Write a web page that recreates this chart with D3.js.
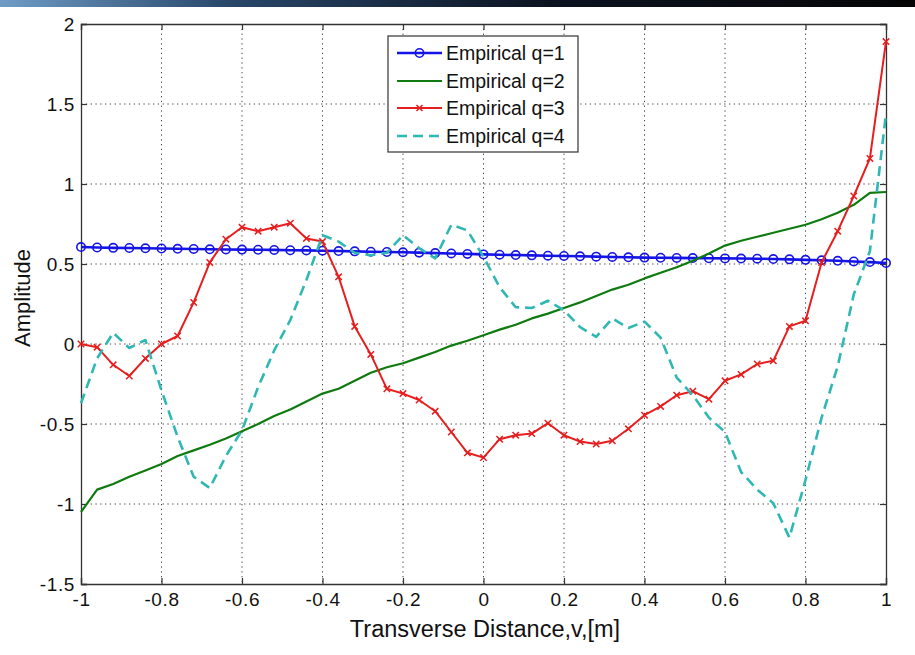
<!DOCTYPE html>
<html>
<head>
<meta charset="utf-8">
<script src="https://cdn.jsdelivr.net/npm/d3@7/dist/d3.min.js"></script>
<style>
  html, body { margin: 0; padding: 0; background: #fff; }
  svg { display: block; font-family: "Liberation Sans", Arial, sans-serif; }
</style>
</head>
<body>
<svg id="chart" width="915" height="655"></svg>
<script>
// ---- data ----
const xValues = d3.range(51).map(i => +(-1 + i * 0.04).toFixed(2));
const seriesNames = ["Empirical q=1", "Empirical q=2", "Empirical q=3", "Empirical q=4"];
const q1 = [0.606,0.603,0.601,0.600,0.598,0.597,0.595,0.594,0.592,0.591,0.590,0.589,0.588,0.586,0.585,0.583,0.581,0.579,0.577,0.575,0.573,0.571,0.568,0.566,0.563,0.560,0.558,0.556,0.554,0.552,0.550,0.548,0.546,0.544,0.542,0.540,0.539,0.538,0.537,0.536,0.535,0.534,0.533,0.531,0.529,0.526,0.523,0.520,0.516,0.512,0.506];
const q2 = [-1.05,-0.91,-0.875,-0.83,-0.79,-0.75,-0.70,-0.665,-0.63,-0.59,-0.545,-0.50,-0.45,-0.41,-0.36,-0.31,-0.28,-0.23,-0.18,-0.145,-0.12,-0.085,-0.05,-0.01,0.02,0.055,0.09,0.12,0.16,0.19,0.225,0.26,0.30,0.34,0.37,0.41,0.445,0.48,0.52,0.565,0.615,0.645,0.67,0.695,0.72,0.745,0.78,0.82,0.87,0.945,0.95];
const q3 = [0.0,-0.02,-0.13,-0.2,-0.09,0.0,0.05,0.26,0.51,0.655,0.73,0.705,0.73,0.755,0.66,0.64,0.42,0.11,-0.065,-0.28,-0.31,-0.35,-0.42,-0.55,-0.68,-0.71,-0.595,-0.57,-0.56,-0.495,-0.57,-0.61,-0.625,-0.605,-0.53,-0.445,-0.39,-0.32,-0.295,-0.345,-0.23,-0.19,-0.125,-0.105,0.11,0.145,0.51,0.705,0.925,1.16,1.89];
const q4 = [-0.37,-0.09,0.07,-0.025,0.025,-0.29,-0.58,-0.83,-0.9,-0.7,-0.54,-0.27,-0.04,0.15,0.4,0.68,0.64,0.57,0.555,0.57,0.68,0.6,0.535,0.745,0.71,0.545,0.355,0.23,0.225,0.27,0.21,0.105,0.045,0.16,0.1,0.14,0.04,-0.21,-0.32,-0.46,-0.55,-0.8,-0.91,-0.995,-1.21,-0.85,-0.46,-0.14,0.31,0.58,1.44];
const xTicks = [-1,-0.8,-0.6,-0.4,-0.2,0,0.2,0.4,0.6,0.8,1];
const xTickLabels = ["-1","-0.8","-0.6","-0.4","-0.2","0","0.2","0.4","0.6","0.8","1"];
const yTicks = [-1.5,-1,-0.5,0,0.5,1,1.5,2];
const yTickLabels = ["-1.5","-1","-0.5","0","0.5","1","1.5","2"];
const xLabel = "Transverse Distance,v,[m]";
const yLabel = "Amplitude";

// ---- styles ----
const styles = [
  { color: "#1414e6", width: 2.6, dash: null, marker: "circle" },
  { color: "#0f7a0f", width: 2.2, dash: null, marker: null },
  { color: "#e61e1e", width: 2.0, dash: null, marker: "x" },
  { color: "#2fb8b3", width: 2.6, dash: "10,6", marker: null }
];
const allSeries = [q1, q2, q3, q4];

const svg = d3.select("#chart");

// top banner strip
const defs = svg.append("defs");
const grad = defs.append("linearGradient").attr("id", "band");
grad.append("stop").attr("offset", "0%").attr("stop-color", "#6f9cc6");
grad.append("stop").attr("offset", "25%").attr("stop-color", "#28476a");
grad.append("stop").attr("offset", "60%").attr("stop-color", "#0c1320");
grad.append("stop").attr("offset", "100%").attr("stop-color", "#050505");
svg.append("rect").attr("x", 0).attr("y", 0).attr("width", 915).attr("height", 7).attr("fill", "url(#band)");

const L = 81, R = 886, T = 24, B = 584;
const x = d3.scaleLinear().domain([-1, 1]).range([L, R]);
const y = d3.scaleLinear().domain([-1.5, 2]).range([B, T]);

// grid
const grid = svg.append("g");
grid.selectAll(".gx").data(xTicks.slice(1, -1)).enter().append("line")
  .attr("x1", d => x(d)).attr("x2", d => x(d)).attr("y1", T).attr("y2", B)
  .attr("stroke", "#444").attr("stroke-width", 1).attr("stroke-dasharray", "1.3,3.5");
grid.selectAll(".gy").data(yTicks.slice(1, -1)).enter().append("line")
  .attr("y1", d => y(d)).attr("y2", d => y(d)).attr("x1", L).attr("x2", R)
  .attr("stroke", "#444").attr("stroke-width", 1).attr("stroke-dasharray", "1.3,3.5");

// axes (ticks inside, all four sides)
const tickFont = "19px";
const axB = svg.append("g").attr("transform", `translate(0,${B})`)
  .call(d3.axisBottom(x).tickValues(xTicks).tickSize(-6).tickPadding(12)
    .tickFormat((d, i) => xTickLabels[i]));
const axT = svg.append("g").attr("transform", `translate(0,${T})`)
  .call(d3.axisTop(x).tickValues(xTicks).tickSize(-6).tickFormat(""));
const axL = svg.append("g").attr("transform", `translate(${L},0)`)
  .call(d3.axisLeft(y).tickValues(yTicks).tickSize(-6).tickPadding(12)
    .tickFormat((d, i) => yTickLabels[i]));
const axR = svg.append("g").attr("transform", `translate(${R},0)`)
  .call(d3.axisRight(y).tickValues(yTicks).tickSize(-6).tickFormat(""));
[axB, axT, axL, axR].forEach(a => {
  a.select(".domain").attr("stroke", "#333").attr("stroke-width", 1.3);
  a.selectAll(".tick line").attr("stroke", "#333").attr("stroke-width", 1.2);
  a.selectAll("text").attr("fill", "#111").style("font-size", tickFont)
    .style("font-family", "'Liberation Sans', Arial, sans-serif").style("letter-spacing", "0.6px");
});
axB.selectAll("text").attr("dy", "0.71em").attr("y", 9);
axL.selectAll("text").attr("x", -6).attr("dy", "0.36em");

// lines
const lineGen = d3.line().x((d, i) => x(xValues[i])).y(d => y(d));
const plot = svg.append("g");
allSeries.forEach((s, si) => {
  const st = styles[si];
  plot.append("path").datum(s)
    .attr("d", lineGen)
    .attr("fill", "none")
    .attr("stroke", st.color)
    .attr("stroke-width", st.width)
    .attr("stroke-linejoin", "round")
    .attr("stroke-dasharray", st.dash);
  if (st.marker === "circle") {
    plot.selectAll(null).data(s).enter().append("circle")
      .attr("cx", (d, i) => x(xValues[i])).attr("cy", d => y(d)).attr("r", 4.2)
      .attr("fill", "none").attr("stroke", st.color).attr("stroke-width", 1.6);
  } else if (st.marker === "x") {
    const m = 3.2;
    plot.selectAll(null).data(s).enter().append("path")
      .attr("d", (d, i) => {
        const cx = x(xValues[i]), cy = y(d);
        return `M${cx - m},${cy - m}L${cx + m},${cy + m}M${cx - m},${cy + m}L${cx + m},${cy - m}`;
      })
      .attr("stroke", st.color).attr("stroke-width", 1.5).attr("fill", "none");
  }
});

// axis labels
svg.append("text").attr("x", 485).attr("y", 637).attr("text-anchor", "middle")
  .style("font-size", "23.5px").attr("fill", "#111").text(xLabel);
svg.append("text").attr("transform", "translate(30,298) rotate(-90)")
  .attr("text-anchor", "middle").style("font-size", "22px").attr("fill", "#111").text(yLabel);

// legend
const lg = svg.append("g");
lg.append("rect").attr("x", 388).attr("y", 36).attr("width", 190).attr("height", 116)
  .attr("fill", "#fff").attr("stroke", "#333").attr("stroke-width", 1.2);
const rowY = [53, 81, 108, 136];
seriesNames.forEach((name, i) => {
  const st = styles[i];
  const yy = rowY[i];
  lg.append("line").attr("x1", 397).attr("x2", 442).attr("y1", yy).attr("y2", yy)
    .attr("stroke", st.color).attr("stroke-width", st.width).attr("stroke-dasharray", st.dash);
  if (st.marker === "circle") {
    lg.append("circle").attr("cx", 419.5).attr("cy", yy).attr("r", 4.2)
      .attr("fill", "none").attr("stroke", st.color).attr("stroke-width", 1.6);
  } else if (st.marker === "x") {
    const m = 3, cx = 419.5;
    lg.append("path").attr("d", `M${cx - m},${yy - m}L${cx + m},${yy + m}M${cx - m},${yy + m}L${cx + m},${yy - m}`)
      .attr("stroke", st.color).attr("stroke-width", 1.5);
  }
  lg.append("text").attr("x", 446).attr("y", yy).attr("dy", "0.36em")
    .style("font-size", "19.5px").attr("fill", "#111").text(name);
});
</script>
</body>
</html>
